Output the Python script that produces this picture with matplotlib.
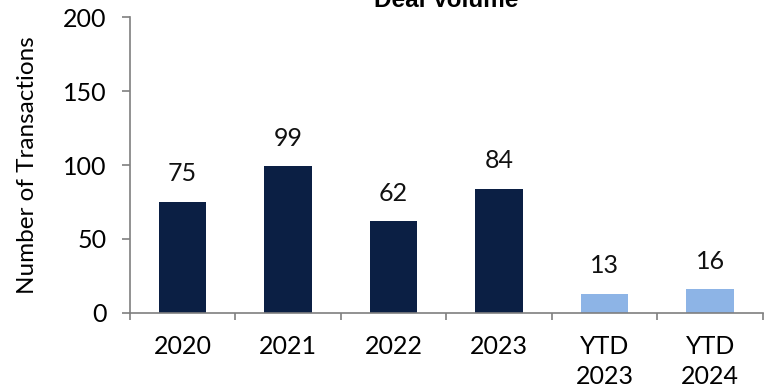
import matplotlib
matplotlib.use("Agg")
import matplotlib.pyplot as plt
import numpy as np

categories = ["2020", "2021", "2022", "2023", "YTD\n2023", "YTD\n2024"]
deals = [75, 99, 62, 84, 13, 16]
colors = ["#0b1f44", "#0b1f44", "#0b1f44", "#0b1f44", "#8db4e6", "#8db4e6"]

plt.rcParams["font.family"] = ["Lato", "DejaVu Sans"]

fig = plt.figure(figsize=(7.73, 3.91), dpi=100)
ax = fig.add_axes([0.168, 0.1995, 0.819, 0.757])

x = np.arange(len(categories))
bars = ax.bar(x, deals, width=0.45, color=colors)
for xi, v in zip(x, deals):
    ax.annotate(f"{v}", (xi, v), xytext=(0, 12), textcoords="offset points",
                ha="center", va="bottom", fontsize=18, color="#111111")

ax.set_xlim(-0.5, len(categories) - 0.5)
ax.set_ylim(0, 200)
ax.set_yticks([0, 50, 100, 150, 200])
ax.set_xticks(x)
ax.set_xticklabels(categories, fontsize=18, linespacing=1.35)
ax.set_xticks(np.arange(len(categories) + 1) - 0.5, minor=True)
ax.tick_params(axis="x", which="major", length=0, pad=16)
ax.tick_params(axis="x", which="minor", length=5, color="#7f7f7f", width=1.2)
ax.tick_params(axis="y", length=6, color="#7f7f7f", width=1.2, labelsize=18, pad=11)
for s in ["top", "right"]:
    ax.spines[s].set_visible(False)
for s in ["left", "bottom"]:
    ax.spines[s].set_color("#7f7f7f")
    ax.spines[s].set_linewidth(1.2)
ax.set_ylabel("Number of Transactions", fontsize=17.5, labelpad=18)
ax.set_title("Deal Volume", fontsize=17.5, fontweight="bold", pad=7,
             family=["Liberation Sans", "DejaVu Sans"])

fig.savefig("out.png", dpi=100)
